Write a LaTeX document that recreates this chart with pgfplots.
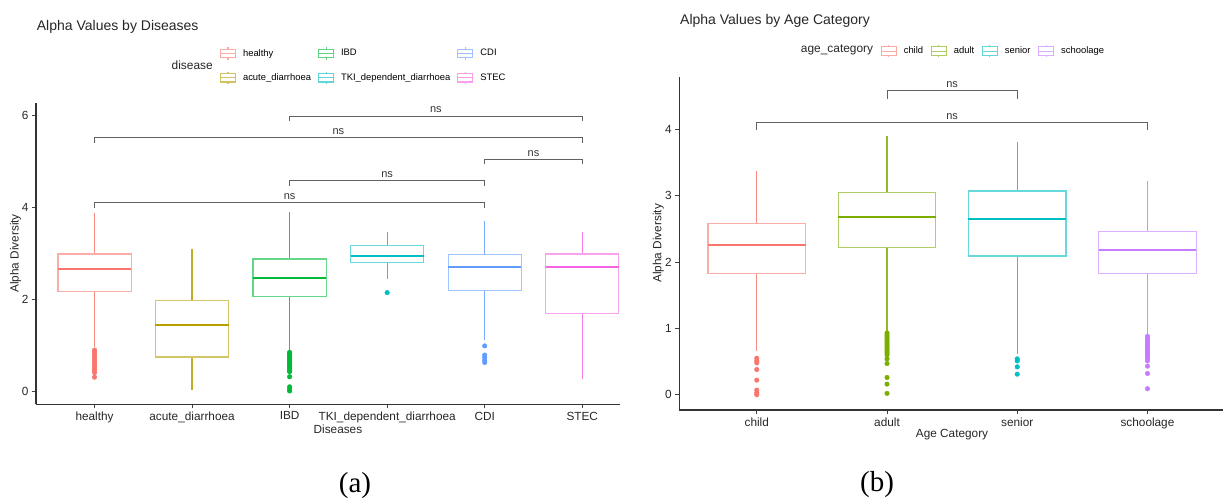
\documentclass[border=0pt]{standalone}
\usepackage{fontspec}
\setmainfont{Liberation Sans}
\newfontfamily\capfont{Liberation Serif}
\usepackage{pgfplots}
\pgfplotsset{compat=1.18}
\usepgfplotslibrary{statistics}

\definecolor{cA}{HTML}{F8766D}
\definecolor{cB}{HTML}{B79F00}
\definecolor{cC}{HTML}{00BA38}
\definecolor{cD}{HTML}{00BFC4}
\definecolor{cE}{HTML}{619CFF}
\definecolor{cF}{HTML}{F564E3}
\definecolor{aB}{HTML}{7CAE00}
\definecolor{aD}{HTML}{C77CFF}

\tikzset{
  nsl/.style={anchor=south, inner sep=2.8pt, font=\fontsize{11}{12}\selectfont, text=black!80},
  lgs/.style={draw=none, fill=none, inner sep=0pt, outer sep=0pt,
    font=\fontsize{9.4}{11}\selectfont,
    nodes={inner sep=0pt, outer sep=0pt},
    every odd column/.append style={column sep=7pt},
    every even column/.append style={column sep=#1}},
}
\pgfplotsset{
  gg/.style={
    scale only axis, clip=false,
    axis lines=left,
    axis line style={-, line width=1.1pt, black!80},
    tick align=outside, major tick length=4pt,
    tick style={line width=0.8pt, black!75},
    /pgf/number format/assume math mode=true,
    ticklabel style={font=\fontsize{11.8}{13}\selectfont, text=black!85},
    label style={font=\fontsize{11.8}{14}\selectfont, text=black!85},
    boxplot/draw direction=y,
    legend cell align=left,
  },
  bx/.style={solid, mark=none, forget plot, draw=#1!60!white, line width=1.2pt,
    boxplot/box extend=0.75, boxplot/whisker extend=0,
    boxplot/every median/.style={draw=#1, line width=2pt},
    boxplot/every whisker/.style={draw=#1!85!white}},
  ol/.style={only marks, forget plot, mark=*, mark size=2.3pt, color=#1, mark options={draw=none, fill=#1}},
  br/.style={sharp plot, mark=none, forget plot, draw=black!62, line width=0.9pt},
  lgk/.style={legend image code/.code={
    \draw[line width=1.1pt] (0pt,-4.2pt) rectangle (15pt,4.2pt);
    \draw[line width=1.1pt] (0pt,0pt) -- (15pt,0pt);
    \draw[line width=1.1pt] (7.5pt,4.2pt) -- (7.5pt,6.2pt);
    \draw[line width=1.1pt] (7.5pt,-4.2pt) -- (7.5pt,-6.2pt);}},
}

\begin{document}
\begin{tikzpicture}[x=1pt,y=1pt]
\path[use as bounding box] (0,0) rectangle (1223,499);

% ---------------- panel (a) ----------------
\begin{axis}[gg,
  at={(36pt,94.7pt)}, anchor=south west,
  width=584pt, height=301.6pt,
  xmin=0.4, xmax=6.387, ymin=-0.29, ymax=6.27,
  xtick={1,2,3,4,5,6},
  xticklabels={healthy,acute\_diarrhoea,IBD,TKI\_dependent\_diarrhoea,CDI,STEC},
  ytick={0,2,4,6},
  xlabel={Diseases}, ylabel={Alpha Diversity},
  xlabel style={at={(axis description cs:0.517,0)}, anchor=center, yshift=-24.7pt},
  ylabel style={at={(axis description cs:-0.035,0.5)}, anchor=center},
  legend columns=3,
  legend style={lgs=7pt, at={(axis description cs:0.315,1.186)}, anchor=north west, row sep=11pt},
]
\addlegendimage{lgk, draw=cA!62!white}\addlegendentry{healthy}
\addlegendimage{lgk, draw=cC!62!white}\addlegendentry{IBD}
\addlegendimage{lgk, draw=cE!62!white}\addlegendentry{CDI}
\addlegendimage{lgk, draw=cB!62!white}\addlegendentry{acute\_diarrhoea}
\addlegendimage{lgk, draw=cD!62!white}\addlegendentry{TKI\_dependent\_diarrhoea}
\addlegendimage{lgk, draw=cF!62!white}\addlegendentry{STEC}

\addplot[bx=cA, boxplot prepared={draw position=1, lower whisker=0.96, lower quartile=2.17, median=2.65, upper quartile=2.98, upper whisker=3.88}] coordinates {};
\addplot[bx=cB, boxplot prepared={draw position=2, lower whisker=0.02, lower quartile=0.74, median=1.43, upper quartile=1.97, upper whisker=3.09}] coordinates {};
\addplot[bx=cC, boxplot prepared={draw position=3, lower whisker=0.86, lower quartile=2.05, median=2.45, upper quartile=2.87, upper whisker=3.89}] coordinates {};
\addplot[bx=cD, boxplot prepared={draw position=4, lower whisker=2.43, lower quartile=2.80, median=2.93, upper quartile=3.16, upper whisker=3.46}] coordinates {};
\addplot[bx=cE, boxplot prepared={draw position=5, lower whisker=1.10, lower quartile=2.18, median=2.70, upper quartile=2.97, upper whisker=3.70}] coordinates {};
\addplot[bx=cF, boxplot prepared={draw position=6, lower whisker=0.25, lower quartile=1.69, median=2.70, upper quartile=2.98, upper whisker=3.46}] coordinates {};

\addplot[ol=cA] coordinates {(1,0.89) (1,0.85) (1,0.80) (1,0.75) (1,0.70) (1,0.65) (1,0.60) (1,0.55) (1,0.50) (1,0.45) (1,0.40) (1,0.30)};
\addplot[ol=cC] coordinates {(3,0.84) (3,0.81) (3,0.78) (3,0.75) (3,0.72) (3,0.69) (3,0.66) (3,0.63) (3,0.60) (3,0.57) (3,0.54) (3,0.51) (3,0.47) (3,0.44) (3,0.42) (3,0.31) (3,0.09) (3,0.04) (3,0.00)};
\addplot[ol=cD] coordinates {(4,2.14)};
\addplot[ol=cE] coordinates {(5,0.98) (5,0.78) (5,0.73) (5,0.67) (5,0.62)};

\addplot[br] coordinates {(3,5.87) (3,5.98) (6,5.98) (6,5.87)};
\addplot[br] coordinates {(1,5.40) (1,5.51) (6,5.51) (6,5.40)};
\addplot[br] coordinates {(5,4.93) (5,5.04) (6,5.04) (6,4.93)};
\addplot[br] coordinates {(3,4.46) (3,4.57) (5,4.57) (5,4.46)};
\addplot[br] coordinates {(1,3.98) (1,4.09) (5,4.09) (5,3.98)};
\node[nsl] at (axis cs:4.5,5.98) {ns};
\node[nsl] at (axis cs:3.5,5.51) {ns};
\node[nsl] at (axis cs:5.5,5.04) {ns};
\node[nsl] at (axis cs:4,4.57) {ns};
\node[nsl] at (axis cs:3,4.09) {ns};

\node[anchor=east, inner sep=0pt, font=\fontsize{11.9}{13}\selectfont, text=black!85] at (rel axis cs:0.303,1.125) {disease};
\node[anchor=west, inner sep=0pt, font=\fontsize{14}{16}\selectfont, text=black!85] at (rel axis cs:0.0012,1.252) {Alpha Values by Diseases};
\end{axis}

% ---------------- panel (b) ----------------
\begin{axis}[gg,
  at={(679.3pt,89pt)}, anchor=south west,
  width=543.7pt, height=333.3pt,
  xmin=0.405, xmax=4.58, ymin=-0.23, ymax=4.79,
  xtick={1,2,3,4},
  xticklabels={child,adult,senior,schoolage},
  ytick={0,1,2,3,4},
  xlabel={Age Category}, ylabel={Alpha Diversity},
  xlabel style={at={(axis description cs:0.5016,0)}, anchor=center, yshift=-25pt},
  ylabel style={at={(axis description cs:-0.0386,0.5)}, anchor=center},
  legend columns=4,
  legend style={lgs=7.6pt, at={(axis description cs:0.3704,1.097)}, anchor=north west},
]
\addlegendimage{lgk, draw=cA!62!white}\addlegendentry{child}
\addlegendimage{lgk, draw=aB!62!white}\addlegendentry{adult}
\addlegendimage{lgk, draw=cD!62!white}\addlegendentry{senior}
\addlegendimage{lgk, draw=aD!62!white}\addlegendentry{schoolage}

\addplot[bx=cA, boxplot prepared={draw position=1, lower whisker=0.66, lower quartile=1.82, median=2.25, upper quartile=2.58, upper whisker=3.37}] coordinates {};
\addplot[bx=aB, boxplot prepared={draw position=2, lower whisker=0.95, lower quartile=2.22, median=2.68, upper quartile=3.05, upper whisker=3.90}] coordinates {};
\addplot[bx=cD, boxplot prepared={draw position=3, lower whisker=0.62, lower quartile=2.09, median=2.64, upper quartile=3.07, upper whisker=3.81}] coordinates {};
\addplot[bx=aD, boxplot prepared={draw position=4, lower whisker=0.90, lower quartile=1.83, median=2.18, upper quartile=2.46, upper whisker=3.22}] coordinates {};

\addplot[ol=cA] coordinates {(1,0.55) (1,0.51) (1,0.48) (1,0.38) (1,0.22) (1,0.07) (1,0.03) (1,0.00)};
\addplot[ol=aB] coordinates {(2,0.93) (2,0.90) (2,0.87) (2,0.84) (2,0.81) (2,0.78) (2,0.75) (2,0.72) (2,0.69) (2,0.66) (2,0.63) (2,0.60) (2,0.54) (2,0.47) (2,0.26) (2,0.16) (2,0.02)};
\addplot[ol=cD] coordinates {(3,0.54) (3,0.51) (3,0.42) (3,0.31)};
\addplot[ol=aD] coordinates {(4,0.88) (4,0.85) (4,0.82) (4,0.79) (4,0.76) (4,0.73) (4,0.70) (4,0.67) (4,0.64) (4,0.61) (4,0.58) (4,0.55) (4,0.51) (4,0.43) (4,0.32) (4,0.09)};

\addplot[br] coordinates {(2,4.46) (2,4.58) (3,4.58) (3,4.46)};
\addplot[br] coordinates {(1,3.99) (1,4.10) (4,4.10) (4,3.99)};
\node[nsl] at (axis cs:2.5,4.58) {ns};
\node[nsl] at (axis cs:2.5,4.10) {ns};

\node[anchor=east, inner sep=0pt, font=\fontsize{11.9}{13}\selectfont, text=black!85] at (rel axis cs:0.3568,1.080) {age\_category};
\node[anchor=west, inner sep=0pt, font=\fontsize{14}{16}\selectfont, text=black!85] at (rel axis cs:0.0013,1.167) {Alpha Values by Age Category};
\end{axis}

\node[font=\capfont\fontsize{29}{32}\selectfont] at (355,13) {(a)};
\node[font=\capfont\fontsize{29}{32}\selectfont] at (877,14) {(b)};
\end{tikzpicture}
\end{document}
